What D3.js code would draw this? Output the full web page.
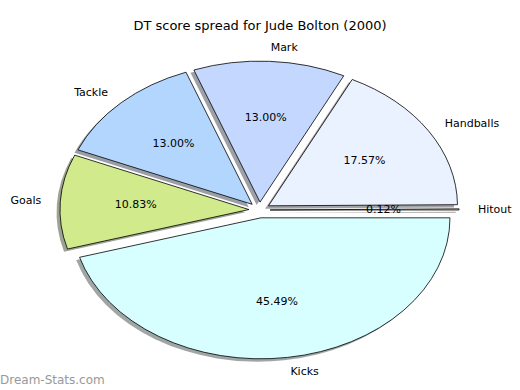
<html>
<head>
<script src="https://d3js.org/d3.v7.min.js"></script>
<style>
body { margin: 0; background: #fff; }
text { font-family: "DejaVu Sans", sans-serif; fill: #000; }
.slice { stroke: #000; stroke-width: 0.8px; vector-effect: non-scaling-stroke; }
</style>
</head>
<body>
<svg id="chart" width="520" height="390"></svg>
<script>
var labels = ["Hitout", "Handballs", "Mark", "Tackle", "Goals", "Kicks"];
var values = [0.12, 17.57, 13.00, 13.00, 10.83, 45.49];
var colours = ["#ffe0e0", "#eaf1ff", "#c4d8ff", "#b3d6ff", "#d0ea8c", "#d8ffff"];

var cx = 259.5, cy = 210, rx = 189, ry = 141;
var explode = 0.056;
var chart = d3.select("#chart");

chart.append("text")
    .attr("x", 260).attr("y", 30)
    .attr("text-anchor", "middle")
    .style("font-size", "13px")
    .text("DT score spread for Jude Bolton (2000)");

// matplotlib style: start at 3 o'clock, counterclockwise
var pie = d3.pie().sort(null).startAngle(Math.PI / 2).endAngle(Math.PI / 2 - 2 * Math.PI);
var arcs = pie(values);
var arc = d3.arc().innerRadius(0).outerRadius(1);

function offset(d, k) {
    var a = (d.startAngle + d.endAngle) / 2;
    return [Math.sin(a) * rx * k, -Math.cos(a) * ry * k];
}

// shadows
chart.selectAll(".shadow").data(arcs).enter().append("path")
    .attr("class", "shadow")
    .attr("transform", function(d){
        var o = offset(d, explode);
        return "translate(" + (cx + o[0] - 0.018 * rx) + "," + (cy + o[1] + 0.02 * ry) + ") scale(" + rx + "," + ry + ")";
    })
    .attr("d", arc)
    .attr("fill", function(d, i){
        var c = d3.rgb(colours[i]);
        return d3.rgb(c.r * 0.3, c.g * 0.3, c.b * 0.3);
    })
    .attr("fill-opacity", 0.5);

chart.selectAll(".slice").data(arcs).enter().append("path")
    .attr("class", "slice")
    .attr("transform", function(d){
        var o = offset(d, explode);
        return "translate(" + (cx + o[0]) + "," + (cy + o[1]) + ") scale(" + rx + "," + ry + ")";
    })
    .attr("d", arc)
    .attr("fill", function(d, i){ return colours[i]; });

// category labels
chart.selectAll(".lbl").data(arcs).enter().append("text")
    .attr("class", "lbl")
    .attr("x", function(d){ return cx + offset(d, explode + 1.1)[0]; })
    .attr("y", function(d){ return cy + offset(d, explode + 1.1)[1]; })
    .attr("dy", "0.3em")
    .attr("text-anchor", function(d){ return offset(d, 1)[0] > 0 ? "start" : "end"; })
    .style("font-size", "11px")
    .text(function(d, i){ return labels[i]; });

// percentages
chart.selectAll(".pct").data(arcs).enter().append("text")
    .attr("class", "pct")
    .attr("x", function(d){ return cx + offset(d, explode + 0.6)[0]; })
    .attr("y", function(d){ return cy + offset(d, explode + 0.6)[1]; })
    .attr("dy", "0.3em")
    .attr("text-anchor", "middle")
    .style("font-size", "11px")
    .text(function(d, i){ return values[i].toFixed(2) + "%"; });

chart.append("text")
    .attr("x", 0).attr("y", 384)
    .style("font-size", "12px")
    .style("fill", "#999")
    .text("Dream-Stats.com");
</script>
</body>
</html>
